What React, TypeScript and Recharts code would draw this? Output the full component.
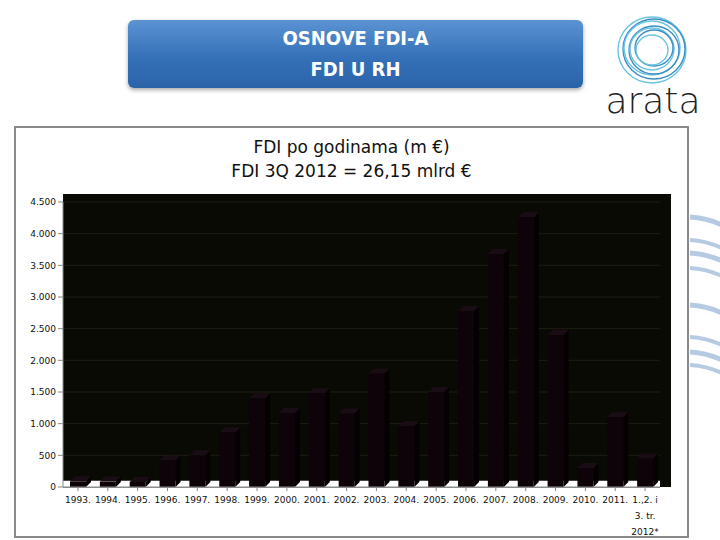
import React from "react";
import { BarChart, Bar, XAxis, YAxis, CartesianGrid, ReferenceArea } from "recharts";

const years = [
  "1993.", "1994.", "1995.", "1996.", "1997.", "1998.", "1999.", "2000.", "2001.", "2002.",
  "2003.", "2004.", "2005.", "2006.", "2007.", "2008.", "2009.", "2010.", "2011.", "1.,2. i|3. tr.|2012*",
];
const fdiValues = [
  90, 85, 80, 420, 500, 860, 1400, 1170, 1480, 1160,
  1790, 960, 1500, 2780, 3680, 4260, 2400, 300, 1100, 450,
];
const yTicks = [0, 500, 1000, 1500, 2000, 2500, 3000, 3500, 4000, 4500];

const data = years.map((label, i) => ({ label, value: fdiValues[i] }));

const fmt = (v: number) => {
  const s = String(v);
  return s.length > 3 ? s.slice(0, s.length - 3) + "." + s.slice(-3) : s;
};

// dark column with a bit of 3D depth
const Column = (props: any) => {
  const { x, y, width, height } = props;
  if (!height || height <= 0) return null;
  const d = 5;
  return (
    <g>
      <path d={`M${x + width},${y} l${d},${-d} v${height} l${-d},${d} z`} fill="#050103" />
      <path d={`M${x},${y} l${d},${-d} h${width} l${-d},${d} z`} fill="#1a0c14" />
      <rect x={x} y={y} width={width} height={height} fill="#0d0309" />
    </g>
  );
};

const XTick = (props: any) => {
  const { x, y, payload } = props;
  const lines = String(payload.value).split("|");
  return (
    <g transform={`translate(${x},${y})`}>
      {lines.map((ln, i) => (
        <text
          key={i}
          x={0}
          y={10 + i * 16}
          textAnchor="middle"
          fontSize={9}
          fontFamily="DejaVu Sans"
          fill="#111"
        >
          {ln}
        </text>
      ))}
    </g>
  );
};

const Logo = () => (
  <svg width={130} height={125} style={{ position: "absolute", left: 590, top: 0 }}>
    {[34, 31, 28, 25, 22, 19, 16].map((r, i) => (
      <ellipse
        key={i}
        cx={62 + (i % 2) * 2}
        cy={50 - (i % 3)}
        rx={r}
        ry={r - 1}
        fill="none"
        stroke={i % 2 ? "#3b8fc4" : "#6cc3e0"}
        strokeWidth={1.4}
      />
    ))}
    <text
      x={63}
      y={113}
      textAnchor="middle"
      fontSize={36}
      fontFamily="DejaVu Sans"
      fontWeight={200}
      fill="#222"
    >
      arata
    </text>
  </svg>
);

const swooshY = [17, 40, 53, 68, 105, 137, 152, 165];

const Swooshes = () => (
  <svg width={40} height={240} style={{ position: "absolute", left: 688, top: 200 }}>
    {swooshY.map((yy, i) => (
      <path
        key={i}
        d={`M2,${yy} Q20,${yy + 1} 36,${yy + 9}`}
        fill="none"
        stroke="#a9c2dc"
        strokeWidth={i % 2 ? 4 : 5}
        opacity={0.85}
      />
    ))}
  </svg>
);

export default function App() {
  return (
    <div
      style={{
        position: "absolute",
        left: 0,
        top: 0,
        width: 720,
        height: 540,
        background: "#fff",
        overflow: "hidden",
        fontFamily: "DejaVu Sans",
      }}
    >
      {/* header box */}
      <div
        style={{
          position: "absolute",
          left: 128,
          top: 20,
          width: 455,
          height: 68,
          borderRadius: 6,
          background: "linear-gradient(#5b93d3, #3571b8 55%, #2b63a9)",
          boxShadow: "0 2px 4px rgba(0,0,0,0.35)",
          color: "#fff",
          fontWeight: "bold",
          fontSize: 20,
          textAlign: "center",
          lineHeight: "31px",
          paddingTop: 3,
          boxSizing: "border-box",
          fontFamily: "'DejaVu Sans Condensed', 'DejaVu Sans'",
        }}
      >
        <div>OSNOVE FDI-A</div>
        <div>FDI U RH</div>
      </div>
      <Logo />
      <Swooshes />

      {/* chart panel */}
      <div
        style={{
          position: "absolute",
          left: 14,
          top: 126,
          width: 675,
          height: 412,
          border: "2px solid #8a8a8a",
          boxSizing: "border-box",
        }}
      />
      <div
        style={{
          position: "absolute",
          left: 14,
          top: 135,
          width: 675,
          textAlign: "center",
          fontSize: 17,
          lineHeight: "24px",
          color: "#111",
          fontFamily: "DejaVu Sans",
        }}
      >
        <div>FDI po godinama (m €)</div>
        <div>FDI 3Q 2012 = 26,15 mlrd €</div>
      </div>

      {/* back wall of the plot */}
      <div
        style={{
          position: "absolute",
          left: 63,
          top: 194,
          width: 608,
          height: 293,
          background: "#0a0a04",
        }}
      />

      <div style={{ position: "absolute", left: 0, top: 190 }}>
        <BarChart
          width={700}
          height={350}
          data={data}
          margin={{ top: 12, right: 40, left: 13, bottom: 8 }}
          barSize={16}
        >
          <CartesianGrid vertical={false} stroke="#1e1e14" fill="#0a0a04" />
          <ReferenceArea y1={0} y2={100} fill="#ffffff" fillOpacity={1} stroke="none" />
          <XAxis
            dataKey="label"
            interval={0}
            tick={<XTick />}
            height={45}
            stroke="#888"
            tickLine={{ stroke: "#888" }}
            tickSize={4}
          />
          <YAxis
            width={50}
            domain={[0, 4500]}
            ticks={yTicks}
            tickFormatter={fmt}
            stroke="#888"
            tick={{ fontSize: 9, fill: "#111", fontFamily: "DejaVu Sans" }}
            tickSize={5}
            interval={0}
          />
          <Bar dataKey="value" shape={<Column />} isAnimationActive={false} />
        </BarChart>
      </div>
    </div>
  );
}
